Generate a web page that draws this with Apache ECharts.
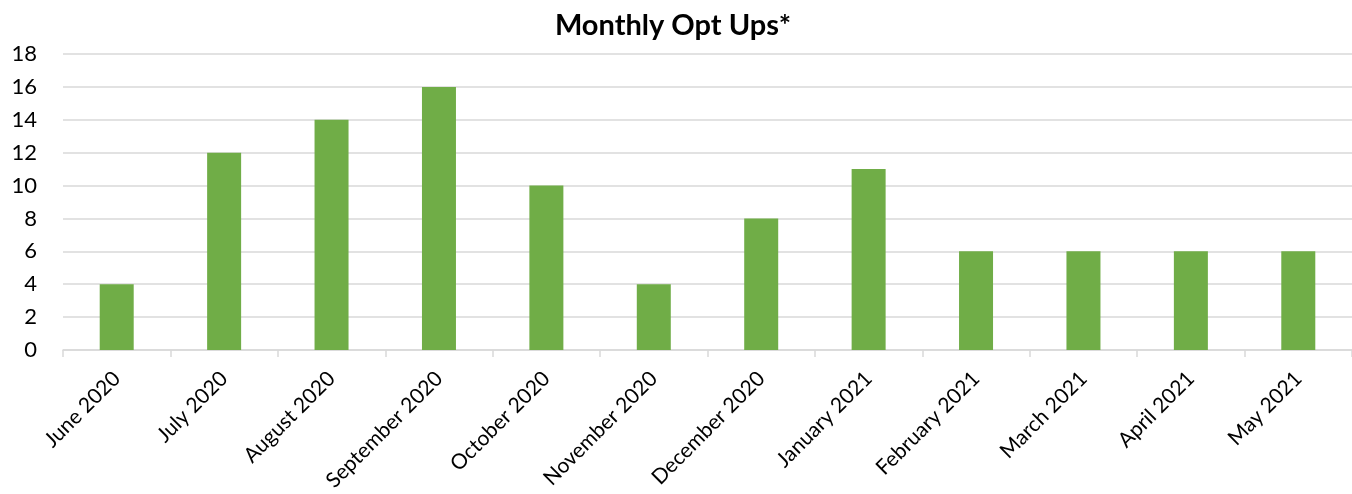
<!DOCTYPE html>
<html><head><meta charset="utf-8">
<script src="https://cdn.jsdelivr.net/npm/echarts@6/dist/echarts.min.js"></script>
<style>html,body{margin:0;padding:0;background:#fff}#c{width:1352px;height:494px}</style>
</head><body><div id="c"></div>
<script>
const categories = ["June 2020","July 2020","August 2020","September 2020","October 2020","November 2020","December 2020","January 2021","February 2021","March 2021","April 2021","May 2021"];
const optUps = [4,12,14,16,10,4,8,11,6,6,6,6];
const chart = echarts.init(document.getElementById('c'), null, {renderer:'canvas'});
const font = 'Lato, "Open Sans", sans-serif';
chart.setOption({
  animation:false,
  title:{text:'Monthly Opt Ups*', left:668, top:6, textAlign:'center',
    textStyle:{fontFamily:font, fontSize:29, fontWeight:'bold', color:'#000'}},
  grid:{left:63, right:-7, top:54, bottom:144, containLabel:false},
  xAxis:{type:'category', data:categories,
    axisLine:{lineStyle:{color:'#d9d9d9', width:1.5}},
    axisTick:{show:true, alignWithLabel:false, length:7, lineStyle:{color:'#d9d9d9', width:1.5}},
    axisLabel:{rotate:45, margin:25, fontFamily:font, fontSize:21, color:'#000', interval:0}},
  yAxis:{type:'value', min:0, max:18, interval:2,
    axisLine:{show:false}, axisTick:{show:false},
    splitLine:{lineStyle:{color:'#d9d9d9', width:1.5}},
    axisLabel:{margin:26, fontFamily:font, fontSize:22, color:'#000'}},
  series:[{type:'bar', data:optUps, barWidth:34, itemStyle:{color:'#70ad47'}}]
});
</script></body></html>
